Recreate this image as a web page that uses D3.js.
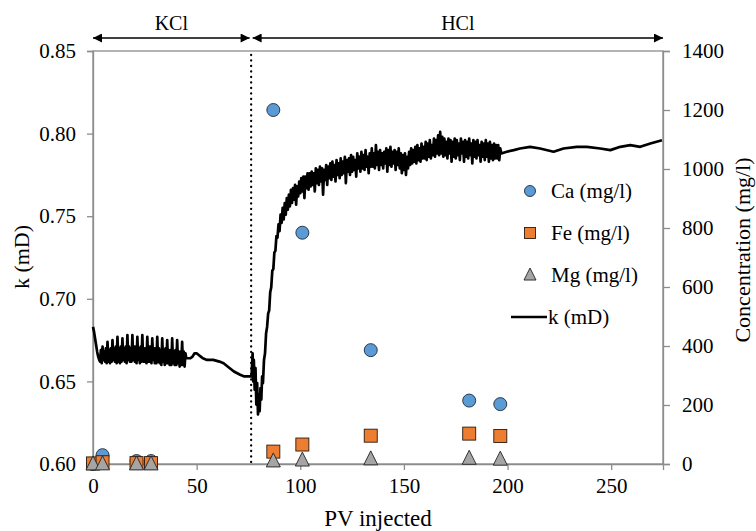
<!DOCTYPE html>
<html><head><meta charset="utf-8">
<script src="https://cdn.jsdelivr.net/npm/d3@7"></script>
<style>
html,body{margin:0;padding:0;background:#fff;}
svg{display:block;}
svg text{font-family:"Liberation Serif","Tinos","Times New Roman","DejaVu Serif",serif !important;fill:#000;}
</style></head>
<body><svg id="c" width="756" height="531"></svg>
<script>
// ---------- DATA ----------
const xTicks = [0, 50, 100, 150, 200, 250];
const kTicks = [0.60, 0.65, 0.70, 0.75, 0.80, 0.85];
const concTicks = [0, 200, 400, 600, 800, 1000, 1200, 1400];

const samplePV = [0, 4.6, 21, 28, 87, 101, 134, 181.5, 196.5];
const caValues = [0, 30, 10, 10, 1200, 784, 386, 215, 203];
const feValues = [2, 6, 3, 3, 42, 66, 96, 103, 95];
const mgValues = [0, 0, 0, 0, 10, 13, 17, 19, 16];

// k (mD) vs PV : smooth start of KCl
const kStart = [[0,0.683],[0.5,0.680],[1.0,0.676],[1.5,0.672],[2.0,0.668],[2.5,0.665],[3.0,0.663]];
// KCl noisy band, PV from 3.4 every 0.4
const kKClNoisePV0 = 3.4, kKClNoiseStep = 0.4;
const kKClNoise = [
0.662,0.669,0.661,0.671,0.663,0.668,
0.662,0.670,0.661,0.674,0.662,0.669,
0.661,0.670,0.662,0.675,0.663,0.670,
0.662,0.671,0.661,0.677,0.662,0.670,
0.661,0.671,0.662,0.676,0.663,0.670,
0.662,0.671,0.661,0.678,0.663,0.671,
0.662,0.670,0.662,0.678,0.663,0.671,
0.662,0.671,0.661,0.677,0.663,0.670,
0.661,0.671,0.662,0.678,0.662,0.670,
0.662,0.670,0.661,0.677,0.662,0.671,
0.662,0.671,0.661,0.676,0.663,0.670,
0.661,0.670,0.661,0.677,0.662,0.670,
0.661,0.669,0.660,0.676,0.662,0.669,
0.660,0.670,0.661,0.675,0.661,0.669,
0.660,0.669,0.660,0.676,0.661,0.668,
0.660,0.669,0.660,0.675,0.661,0.668,
0.659,0.668,0.660,0.674,0.660,0.668,
0.659,0.667];
// KCl end, smooth decline
const kKClTail = [[45,0.664],[46,0.664],[47,0.664],[48,0.665],[49,0.667],[50,0.667],[51,0.666],[52,0.665],[53,0.664],[55,0.663],[58,0.663],[61,0.662],[63,0.661],[66,0.658],[68,0.656],[71,0.654],[73,0.653],[75,0.653],[76.5,0.653]];
// switch to HCl: dip
const kSwitch = [[77.0,0.667],[77.3,0.650],[77.6,0.663],[78.0,0.645],[78.4,0.658],[78.8,0.636],[79.2,0.649],[79.6,0.630],[80.0,0.642],[80.4,0.632],[80.8,0.646],[81.2,0.639],[81.6,0.653],[82.0,0.649],[82.5,0.663],[83.0,0.667],[83.5,0.679]];
// HCl noisy band, PV from 84 every 0.5
const kHClNoisePV0 = 84, kHClNoiseStep = 0.5;
const kHClNoise = [
0.683,0.691,0.693,0.704,0.707,0.717,0.718,0.728,0.729,0.738,0.737,0.745,
0.741,0.751,0.746,0.755,0.748,0.758,0.751,0.761,0.754,0.763,
0.756,0.766,0.758,0.767,0.760,0.769,0.757,0.768,0.762,0.771,
0.764,0.773,0.765,0.774,0.761,0.774,0.767,0.776,0.766,0.776,
0.768,0.777,0.769,0.776,0.765,0.779,0.770,0.778,0.769,0.780,
0.771,0.779,0.763,0.778,0.772,0.781,0.769,0.780,0.773,0.782,
0.772,0.783,0.774,0.781,0.771,0.784,0.775,0.782,0.773,0.785,
0.775,0.783,0.776,0.786,0.770,0.784,0.777,0.785,0.775,0.787,
0.777,0.786,0.778,0.784,0.774,0.788,0.779,0.786,0.777,0.789,
0.779,0.787,0.778,0.790,0.780,0.786,0.776,0.788,0.780,0.791,
0.780,0.788,0.779,0.793,0.781,0.789,0.778,0.790,0.781,0.788,
0.779,0.789,0.782,0.791,0.777,0.790,0.781,0.792,0.780,0.789,
0.782,0.790,0.778,0.789,0.781,0.791,0.779,0.788,0.776,0.787,
0.778,0.788,0.775,0.786,0.779,0.789,0.781,0.791,0.782,0.790,
0.783,0.792,0.782,0.793,0.784,0.791,0.783,0.794,0.785,0.792,
0.785,0.795,0.784,0.794,0.786,0.796,0.785,0.793,0.787,0.797,
0.786,0.796,0.788,0.799,0.787,0.801,0.788,0.798,0.786,0.797,
0.787,0.795,0.785,0.797,0.788,0.796,0.783,0.795,0.786,0.797,
0.785,0.796,0.787,0.794,0.784,0.797,0.788,0.795,0.783,0.796,
0.786,0.795,0.785,0.797,0.787,0.794,0.782,0.796,0.786,0.795,
0.785,0.796,0.787,0.793,0.783,0.795,0.786,0.794,0.784,0.796,
0.786,0.794,0.783,0.795,0.785,0.793,0.784,0.794,0.785,0.793,
0.785,0.793,0.784,0.791];
// HCl smooth tail
const kHClTail = [[197,0.788],[199.6,0.789],[203,0.790],[206,0.791],[210.9,0.792],[215.7,0.791],[222.2,0.789],[227,0.791],[233.4,0.792],[238.3,0.792],[244.7,0.791],[249.6,0.790],[254.4,0.792],[259.2,0.793],[264,0.792],[268.9,0.794],[274.5,0.796]];

const switchPV = 76.3;
const phaseLabels = ["KCl", "HCl"];
const legendLabels = ["Ca (mg/l)", "Fe (mg/l)", "Mg (mg/l)", "k (mD)"];
const colors = {Ca:"#5B9BD5", Fe:"#ED7D31", Mg:"#A5A5A5"};

// ---------- BUILD ----------
const kData = [].concat(
  kStart,
  kKClNoise.map((v,i)=>[kKClNoisePV0 + i*kKClNoiseStep, v]),
  kKClTail, kSwitch,
  kHClNoise.map((v,i)=>[kHClNoisePV0 + i*kHClNoiseStep, v]),
  kHClTail);

const svg = d3.select("#c");
const L = 93, R = 663, T = 51, B = 464;
const x = d3.scaleLinear().domain([0, 275]).range([L, R]);
const yk = d3.scaleLinear().domain([0.60, 0.85]).range([B, T]);
const yc = d3.scaleLinear().domain([0, 1400]).range([B, T]);
const axisColor = "#8c8c8c";
const FS = 21;

// frame
svg.append("rect").attr("x", L).attr("y", T).attr("width", R-L).attr("height", B-T)
  .attr("fill","none").attr("stroke", axisColor).attr("stroke-width", 1.3);

function styleAxis(g){
  g.attr("font-family", null);
  g.select(".domain").attr("stroke", axisColor).attr("stroke-width",1.3);
  g.selectAll(".tick line").attr("stroke", axisColor).attr("stroke-width",1.3);
  g.selectAll(".tick text").attr("font-size", FS);
}
svg.append("g").attr("transform",`translate(0,${B})`)
  .call(d3.axisBottom(x).tickValues(xTicks).tickSize(6).tickPadding(8).tickFormat(d3.format("d")))
  .call(styleAxis);
svg.append("g").attr("transform",`translate(${L},0)`)
  .call(d3.axisLeft(yk).tickValues(kTicks).tickSize(6).tickPadding(11).tickFormat(d3.format(".2f")))
  .call(styleAxis);
svg.append("g").attr("transform",`translate(${R},0)`)
  .call(d3.axisRight(yc).tickValues(concTicks).tickSize(7).tickPadding(12).tickFormat(d3.format("d")))
  .call(styleAxis);

// dotted switch line
svg.append("line").attr("x1", x(switchPV)).attr("x2", x(switchPV)).attr("y1", T+4).attr("y2", B)
  .attr("stroke","#000").attr("stroke-width",2.3).attr("stroke-linecap","round").attr("stroke-dasharray","0,5.5");

// k line
svg.append("path").datum(kData)
  .attr("d", d3.line().x(d=>x(d[0])).y(d=>yk(d[1])))
  .attr("fill","none").attr("stroke","#000").attr("stroke-width",2.7).attr("stroke-linejoin","round");

// markers
const triPath = (s)=>`M0,${-s*0.58}L${s/2},${s*0.42}L${-s/2},${s*0.42}Z`;
function drawMarkers(vals, kind){
  const g = svg.append("g");
  vals.forEach((v,i)=>{
    const cx = x(samplePV[i]), cy = yc(v);
    if(kind==="Ca") g.append("circle").attr("cx",cx).attr("cy",cy).attr("r",6.5)
      .attr("fill",colors.Ca).attr("stroke","#1f2a36").attr("stroke-width",0.9);
    if(kind==="Fe") g.append("rect").attr("x",cx-6.5).attr("y",cy-6.5).attr("width",13).attr("height",13)
      .attr("fill",colors.Fe).attr("stroke","#2a1a10").attr("stroke-width",0.9);
    if(kind==="Mg") g.append("path").attr("d",triPath(14)).attr("transform",`translate(${cx},${cy})`)
      .attr("fill",colors.Mg).attr("stroke","#222").attr("stroke-width",0.9);
  });
}
drawMarkers(caValues,"Ca");
drawMarkers(feValues,"Fe");
drawMarkers(mgValues,"Mg");

// phase arrows
svg.append("defs").html(`
<marker id="ah" viewBox="0 0 10 10" refX="10" refY="5" markerWidth="10" markerHeight="9" markerUnits="userSpaceOnUse" orient="auto-start-reverse">
<path d="M0,0L10,5L0,10Z" fill="#000"/></marker>`);
const ay = 38;
const phases = [[0, switchPV, phaseLabels[0]], [switchPV, 275, phaseLabels[1]]];
phases.forEach(([a,b,lab],i)=>{
  const x1 = x(a) + (i===1?1.5:0), x2 = x(b) - (i===0?1.5:0);
  svg.append("line").attr("x1",x1).attr("x2",x2).attr("y1",ay).attr("y2",ay)
    .attr("stroke","#000").attr("stroke-width",1.6)
    .attr("marker-start","url(#ah)").attr("marker-end","url(#ah)");
  svg.append("text").attr("x",(x1+x2)/2).attr("y",30).attr("text-anchor","middle")
    .attr("font-size",20).text(lab);
});

// axis titles
svg.append("text").attr("x",(L+R)/2).attr("y",526).attr("text-anchor","middle").attr("font-size",23).text("PV injected");
svg.append("text").attr("transform",`translate(29,257) rotate(-90)`).attr("text-anchor","middle").attr("font-size",22).text("k (mD)");
svg.append("text").attr("transform",`translate(750,250) rotate(-90)`).attr("text-anchor","middle").attr("font-size",22).text("Concentration (mg/l)");

// legend
const lg = svg.append("g");
const lx = 530, ly = [191, 233, 275, 317];
lg.append("circle").attr("cx",lx).attr("cy",ly[0]).attr("r",5.5).attr("fill",colors.Ca).attr("stroke","#1f2a36").attr("stroke-width",0.9);
lg.append("rect").attr("x",lx-5.5).attr("y",ly[1]-5.5).attr("width",11).attr("height",11).attr("fill",colors.Fe).attr("stroke","#2a1a10").attr("stroke-width",0.9);
lg.append("path").attr("d",triPath(12)).attr("transform",`translate(${lx},${ly[2]})`).attr("fill",colors.Mg).attr("stroke","#222").attr("stroke-width",0.9);
lg.append("line").attr("x1",511).attr("x2",547).attr("y1",ly[3]).attr("y2",ly[3]).attr("stroke","#000").attr("stroke-width",2.4);
legendLabels.forEach((t,i)=>{
  lg.append("text").attr("x", i<3?551:548).attr("y",ly[i]).attr("dy","0.35em").attr("font-size",21).text(t);
});
</script></body></html>
